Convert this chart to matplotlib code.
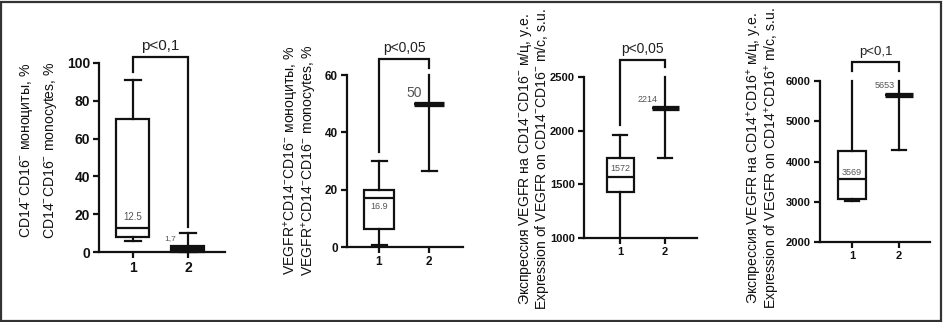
import matplotlib
matplotlib.use("Agg")
import matplotlib.pyplot as plt
from matplotlib.patches import Rectangle

plt.rcParams['font.family'] = ['Liberation Sans', 'DejaVu Sans']
plt.rcParams['mathtext.fontset'] = 'custom'
plt.rcParams['mathtext.rm'] = 'Liberation Sans'
plt.rcParams['mathtext.it'] = 'Liberation Sans'
plt.rcParams['mathtext.default'] = 'regular'

W, H = 943, 322
categories = ["1", "2"]

# Panel 1: CD14-CD16- monocytes, %
p1_whislo = [6, 0]
p1_q1 = [8, 0]
p1_med = [12.5, 1.7]
p1_q3 = [70.5, 3]
p1_whishi = [91, 10]
p1_ticks = [0, 20, 40, 60, 80, 100]
p1_medlabels = ["12.5", "1,7"]
p1_p = "p<0,1"
p1_bracket = [95, 103, 13]   # left leg bottom, top, right leg bottom

# Panel 2: VEGFR+CD14-CD16- monocytes, %
p2_whislo = [0.8, 26.5]
p2_q1 = [6.2, 50]
p2_med = [17, 50]
p2_q3 = [20, 50]
p2_whishi = [30, 60]
p2_ticks = [0, 20, 40, 60]
p2_medlabels = ["16.9", "50"]
p2_p = "p<0,05"
p2_bracket = [33, 65.6, 62.5]

# Panel 3: VEGFR expression on CD14-CD16-
p3_whislo = [1000, 1750]
p3_q1 = [1425, 2214]
p3_med = [1572, 2214]
p3_q3 = [1750, 2214]
p3_whishi = [1955, 2500]
p3_ticks = [1000, 1500, 2000, 2500]
p3_medlabels = ["1572", "2214"]
p3_p = "p<0,05"
p3_bracket = [2050, 2658, 2590]

# Panel 4: VEGFR expression on CD14+CD16+
p4_whislo = [3030, 4280]
p4_q1 = [3080, 5653]
p4_med = [3569, 5653]
p4_q3 = [4250, 5653]
p4_whishi = [6000, 6000]
p4_ticks = [2000, 3000, 4000, 5000, 6000]
p4_medlabels = ["3569", "5653"]
p4_p = "p<0,1"
p4_bracket = [6248, 6472, 6248]

fig = plt.figure(figsize=(W / 100, H / 100), dpi=100)
fig.patch.set_facecolor('white')

LC = '#111111'


def make_ax(x0, x1, ytop, ybot):
    return fig.add_axes([x0 / W, (H - ybot) / H, (x1 - x0) / W, (ybot - ytop) / H])


def panel(ax, whislo, q1, med, q3, whishi, ticks, xlim, tick_fs, p_text, p_fs,
          bracket, medlabels, label_pos, box_fill, hide_caps, thick_med):
    stats = []
    for i in range(2):
        stats.append(dict(med=med[i], q1=q1[i], q3=q3[i], whislo=whislo[i],
                          whishi=whishi[i], fliers=[]))
    res = ax.bxp(stats, positions=[1, 2], widths=0.6, capwidths=0.3,
                 patch_artist=True, showfliers=False,
                 boxprops=dict(linewidth=1.6, edgecolor=LC),
                 whiskerprops=dict(linewidth=1.6, color=LC),
                 capprops=dict(linewidth=1.6, color=LC),
                 medianprops=dict(linewidth=1.6, color=LC))
    for i, b in enumerate(res['boxes']):
        b.set_facecolor(box_fill[i])
        b.set_clip_on(False)
    for i, m in enumerate(res['medians']):
        m.set_clip_on(False)
        if thick_med[i]:
            m.set_linewidth(3.8)
    for w in res['whiskers']:
        w.set_clip_on(False)
    for j, c in enumerate(res['caps']):
        c.set_clip_on(False)
        if j in hide_caps:
            c.set_visible(False)
    ax.set_xlim(*xlim)
    ax.set_ylim(ticks[0], ticks[-1])
    ax.set_yticks(ticks)
    ax.set_xticks([1, 2])
    ax.set_xticklabels(categories)
    for s in ['top', 'right']:
        ax.spines[s].set_visible(False)
    for s in ['left', 'bottom']:
        ax.spines[s].set_linewidth(1.6)
        ax.spines[s].set_color(LC)
    ax.tick_params(direction='out', length=4.5, width=1.6, colors=LC,
                   labelsize=tick_fs, pad=2)
    for t in ax.get_xticklabels() + ax.get_yticklabels():
        t.set_fontweight('bold')
    ax.set_facecolor('none')
    # bracket
    lb, top, rb = bracket
    ax.plot([1, 1, 2, 2], [lb, top, top, rb], color=LC, lw=1.6, clip_on=False,
            solid_joinstyle='miter')
    ax.annotate(p_text, xy=(1.5, top), xytext=(0, 3), textcoords='offset points',
                ha='center', va='bottom', fontsize=p_fs, color='#222222',
                annotation_clip=False)
    for (x, y, fs), s in zip(label_pos, medlabels):
        ax.text(x, y, s, ha='center', va='center', fontsize=fs, color='#555555')


# Panel 1
ax1 = make_ax(99, 225, 63, 252)
panel(ax1, p1_whislo, p1_q1, p1_med, p1_q3, p1_whishi, p1_ticks, (0.382, 2.673), 10,
      p1_p, 11, p1_bracket, p1_medlabels,
      [(1, 18.5, 7), (1.68, 7, 6)], ['white', LC], [], [False, False])

# Panel 2
ax2 = make_ax(347, 463, 75, 247)
panel(ax2, p2_whislo, p2_q1, p2_med, p2_q3, p2_whishi, p2_ticks, (0.36, 2.68), 8.5,
      p2_p, 10, p2_bracket, p2_medlabels,
      [(1, 14.2, 6.5), (1.7, 53.8, 10)], ['white', 'white'], [3], [False, True])

# Panel 3
ax3 = make_ax(584, 697, 77, 238)
panel(ax3, p3_whislo, p3_q1, p3_med, p3_q3, p3_whishi, p3_ticks, (0.2, 2.71), 8,
      p3_p, 10, p3_bracket, p3_medlabels,
      [(1, 1643, 6.5), (1.62, 2286, 6.5)], ['white', 'white'], [0, 3], [False, True])

# Panel 4
ax4 = make_ax(820, 930, 81, 242)
panel(ax4, p4_whislo, p4_q1, p4_med, p4_q3, p4_whishi, p4_ticks, (0.32, 2.66), 8,
      p4_p, 9.5, p4_bracket, p4_medlabels,
      [(1, 3739, 6.5), (1.7, 5900, 6.5)], ['white', 'white'], [1, 3], [False, True])

# Y-axis labels (two lines each)
ylabels = [
    (27, 51, 150, "CD14$^{-}$CD16$^{-}$ моноциты, %", "CD14$^{-}$CD16$^{-}$ monocytes, %"),
    (292, 310, 160, "VEGFR$^{+}$CD14$^{-}$CD16$^{-}$ моноциты, %", "VEGFR$^{+}$CD14$^{-}$CD16$^{-}$ monocytes, %"),
    (525, 542, 159, "Экспрессия VEGFR на CD14$^{-}$CD16$^{-}$ м/ц, у.е.", "Expression of VEGFR on CD14$^{-}$CD16$^{-}$ m/c, s.u."),
    (755, 773, 158, "Экспрессия VEGFR на CD14$^{+}$CD16$^{+}$ м/ц, у.е.", "Expression of VEGFR on CD14$^{+}$CD16$^{+}$ m/c, s.u."),
]
for xa, xb, yc, l1, l2 in ylabels:
    fig.text(xa / W, 1 - yc / H, l1, rotation=90, ha='center', va='center',
             fontsize=10.1, color='#111111')
    fig.text(xb / W, 1 - yc / H, l2, rotation=90, ha='center', va='center',
             fontsize=10.1, color='#111111')

# outer frame
fig.patches.append(Rectangle((1 / W, 1 / H), (W - 3) / W, (H - 3) / H,
                             transform=fig.transFigure, fill=False,
                             edgecolor='#333333', linewidth=1.6))

fig.savefig("out.png", dpi=100)
